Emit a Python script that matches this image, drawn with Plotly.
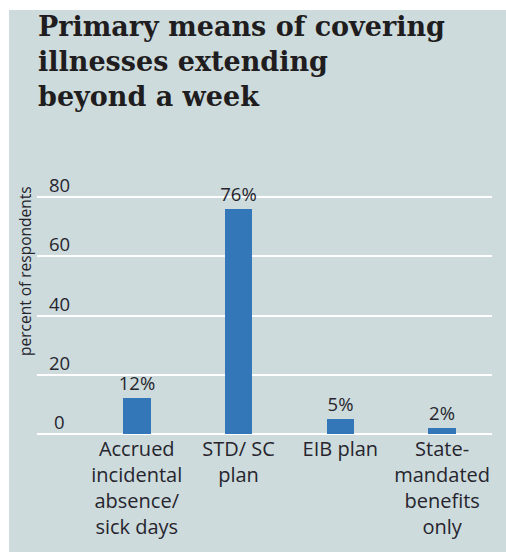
import plotly.graph_objects as go

# Survey results: primary means of covering illnesses that extend beyond a week
categories = [
    "Accrued<br>incidental<br>absence/<br>sick days",
    "STD/ SC<br>plan",
    "EIB plan",
    "State-<br>mandated<br>benefits<br>only",
]
percent_values = [12, 76, 5, 2]
y_ticks = [0, 20, 40, 60, 80]

BG = "#CDDBDC"
BAR = "#3377B8"
INK = "#26252E"
W, H = 506, 552
ML, MR, MT, MB = 37, 14, 196, 117

fig = go.Figure(
    go.Bar(
        x=categories,
        y=percent_values,
        width=0.27,
        marker=dict(color=BAR, line=dict(width=0)),
        text=[f"{v}%" for v in percent_values],
        textposition="outside",
        constraintext="none",
        textfont=dict(family="Open Sans", size=18.5, color=INK),
        cliponaxis=False,
    )
)

def px_to_paper_x(px):
    return (px - ML) / (W - ML - MR)

def px_to_paper_y(py):
    return (H - MB - py) / (H - MT - MB)

# y tick labels sit just above their gridlines
tick_annotations = [
    dict(
        text=str(t), x=px_to_paper_x(59), y=t,
        xref="paper", yref="y",
        xanchor="center", yanchor="bottom", yshift=-2,
        showarrow=False,
        font=dict(family="Open Sans", size=18.5, color=INK),
    )
    for t in y_ticks
]

fig.update_layout(
    width=W,
    height=H,
    margin=dict(l=ML, r=MR, t=MT, b=MB),
    paper_bgcolor=BG,
    plot_bgcolor=BG,
    showlegend=False,
    bargap=0,
    xaxis=dict(
        range=[-0.98, 3.49],
        showgrid=False,
        showline=False,
        zeroline=False,
        ticks="",
        tickfont=dict(family="Open Sans", size=20, color=INK),
    ),
    yaxis=dict(
        range=[-0.5, 80.5],
        tickvals=y_ticks,
        showticklabels=False,
        showgrid=True,
        gridcolor="white",
        gridwidth=2,
        zeroline=True,
        zerolinecolor="white",
        zerolinewidth=2,
        showline=False,
        ticks="",
    ),
    shapes=[
        # white frame strips along the top and left edges
        dict(type="rect", xref="paper", yref="paper",
             x0=px_to_paper_x(0), x1=px_to_paper_x(W),
             y0=px_to_paper_y(10), y1=px_to_paper_y(0),
             fillcolor="white", line=dict(width=0), layer="below"),
        dict(type="rect", xref="paper", yref="paper",
             x0=px_to_paper_x(0), x1=px_to_paper_x(9),
             y0=px_to_paper_y(H), y1=px_to_paper_y(0),
             fillcolor="white", line=dict(width=0), layer="below"),
    ],
    annotations=[
        dict(
            text="<b>Primary means of covering<br>illnesses extending<br>beyond a week</b>",
            x=px_to_paper_x(36), y=px_to_paper_y(9),
            xref="paper", yref="paper",
            xanchor="left", yanchor="top", align="left",
            showarrow=False,
            font=dict(family="DejaVu Serif", size=27, color="#1F1D20"),
        ),
        dict(
            text="percent of respondents",
            textangle=-90,
            x=px_to_paper_x(25), y=px_to_paper_y(271),
            xref="paper", yref="paper",
            xanchor="center", yanchor="middle",
            showarrow=False,
            font=dict(family="Open Sans", size=15.5, color=INK),
        ),
    ] + tick_annotations,
)

fig.write_html("out.html")
